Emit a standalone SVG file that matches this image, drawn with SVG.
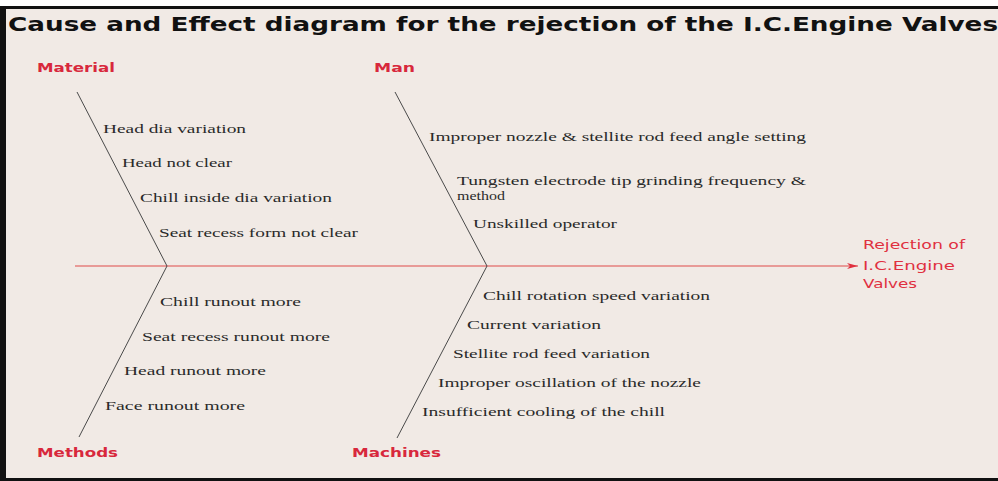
<svg xmlns="http://www.w3.org/2000/svg" width="998" height="481" viewBox="0 0 998 481">
<defs>
<style>
.bg{fill:#f1eae5}
.title{font-family:"DejaVu Sans",Verdana,sans-serif;font-weight:bold;font-size:20px;fill:#111}
.cat{font-family:"DejaVu Sans",Verdana,sans-serif;font-weight:bold;font-size:13px;fill:#d8283c}
.eff{font-family:"DejaVu Sans",Verdana,sans-serif;font-size:13px;fill:#e0303f}
.cause{font-family:"Liberation Serif","Times New Roman",serif;font-size:13px;fill:#2a2a2a}
.bone{stroke:#4a4a4a;stroke-width:1;fill:none}
.spine{stroke:#e04a4a;stroke-width:1.2;fill:none}
</style>
<marker id="arr" markerWidth="12" markerHeight="8" refX="11" refY="4" orient="auto" markerUnits="userSpaceOnUse">
<path d="M0,1 L11,4 L0,7 L3,4 Z" fill="#e0303f"/>
</marker>
</defs>
<rect class="bg" x="0" y="0" width="998" height="481"/>
<rect x="0" y="0" width="998" height="6" fill="#ffffff"/>
<rect x="0" y="6" width="998" height="3" fill="#111"/>
<rect x="0" y="6" width="6" height="475" fill="#111"/>
<rect x="0" y="478" width="998" height="3" fill="#111"/>
<text class="title" x="8" y="31" textLength="990" lengthAdjust="spacingAndGlyphs">Cause and Effect diagram for the rejection of the I.C.Engine Valves</text>

<g id="connectors">
<line class="spine" x1="75" y1="266" x2="858" y2="266" marker-end="url(#arr)"/>
<line class="bone" x1="77" y1="92" x2="167" y2="266"/>
<line class="bone" x1="167" y1="266" x2="79" y2="437"/>
<line class="bone" x1="395" y1="92" x2="487" y2="266"/>
<line class="bone" x1="487" y1="266" x2="397" y2="438"/>
</g>

<g id="effect">
<text class="eff" x="863" y="249" textLength="102" lengthAdjust="spacingAndGlyphs">Rejection of</text>
<text class="eff" x="863" y="270" textLength="92" lengthAdjust="spacingAndGlyphs">I.C.Engine</text>
<text class="eff" x="863" y="288" textLength="54" lengthAdjust="spacingAndGlyphs">Valves</text>
</g>

<g id="material">
<text class="cat" x="37" y="72" textLength="78" lengthAdjust="spacingAndGlyphs">Material</text>
<text class="cause" x="103" y="133" textLength="143" lengthAdjust="spacingAndGlyphs">Head dia variation</text>
<text class="cause" x="122" y="167" textLength="110" lengthAdjust="spacingAndGlyphs">Head not clear</text>
<text class="cause" x="140" y="202" textLength="192" lengthAdjust="spacingAndGlyphs">Chill inside dia variation</text>
<text class="cause" x="159" y="237" textLength="199" lengthAdjust="spacingAndGlyphs">Seat recess form not clear</text>
</g>

<g id="man">
<text class="cat" x="374" y="72" textLength="41" lengthAdjust="spacingAndGlyphs">Man</text>
<text class="cause" x="429" y="141" textLength="377" lengthAdjust="spacingAndGlyphs">Improper nozzle &amp; stellite rod feed angle setting</text>
<text class="cause" x="457" y="185" textLength="349" lengthAdjust="spacingAndGlyphs">Tungsten electrode tip grinding frequency &amp;</text>
<text class="cause" x="457" y="200" textLength="48" lengthAdjust="spacingAndGlyphs">method</text>
<text class="cause" x="473" y="228" textLength="144" lengthAdjust="spacingAndGlyphs">Unskilled operator</text>
</g>

<g id="methods">
<text class="cat" x="37" y="457" textLength="81" lengthAdjust="spacingAndGlyphs">Methods</text>
<text class="cause" x="160" y="306" textLength="141" lengthAdjust="spacingAndGlyphs">Chill runout more</text>
<text class="cause" x="142" y="341" textLength="188" lengthAdjust="spacingAndGlyphs">Seat recess runout more</text>
<text class="cause" x="124" y="375" textLength="142" lengthAdjust="spacingAndGlyphs">Head runout more</text>
<text class="cause" x="105" y="410" textLength="140" lengthAdjust="spacingAndGlyphs">Face runout more</text>
</g>

<g id="machines">
<text class="cat" x="352" y="457" textLength="89" lengthAdjust="spacingAndGlyphs">Machines</text>
<text class="cause" x="483" y="300" textLength="227" lengthAdjust="spacingAndGlyphs">Chill rotation speed variation</text>
<text class="cause" x="467" y="329" textLength="134" lengthAdjust="spacingAndGlyphs">Current variation</text>
<text class="cause" x="453" y="358" textLength="197" lengthAdjust="spacingAndGlyphs">Stellite rod feed variation</text>
<text class="cause" x="438" y="387" textLength="263" lengthAdjust="spacingAndGlyphs">Improper oscillation of the nozzle</text>
<text class="cause" x="422" y="416" textLength="243" lengthAdjust="spacingAndGlyphs">Insufficient cooling of the chill</text>
</g>
</svg>
